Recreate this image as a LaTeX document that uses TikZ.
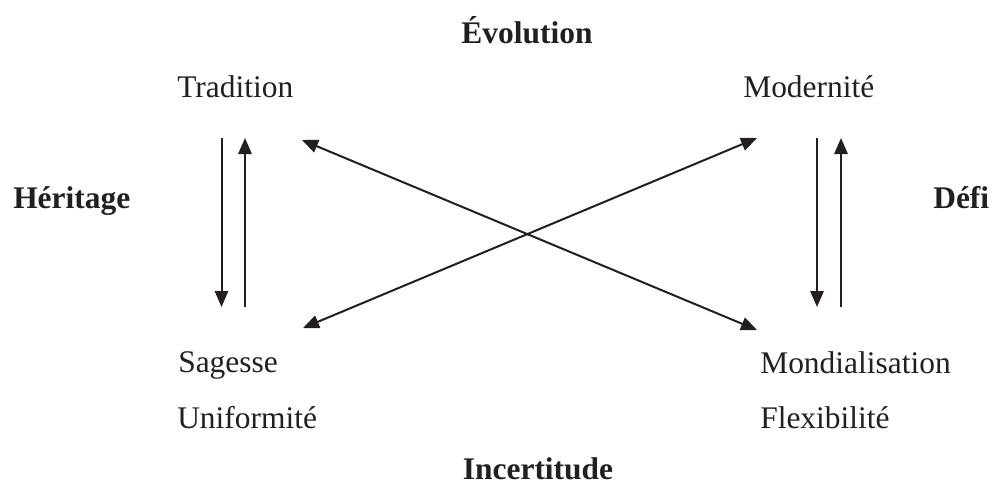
\documentclass[tikz,border=0pt]{standalone}
\usepackage{fontspec}
\setmainfont{Liberation Serif}
\usetikzlibrary{arrows.meta}
\definecolor{ink}{HTML}{231F20}
\tikzset{
  lbl/.style={inner sep=0pt, text=ink, font=\fontsize{23.6}{28}\selectfont},
  blbl/.style={lbl, font=\fontsize{23.6}{28}\selectfont\bfseries},
  arr/.style={draw=ink, line width=1.5pt, -{Triangle[length=12pt,width=10pt]}},
  darr/.style={draw=ink, line width=1.5pt, {Triangle[length=12pt,width=10pt]}-{Triangle[length=12pt,width=10pt]}}
}
\begin{document}
\begin{tikzpicture}[x=0.75pt,y=-0.75pt]
\useasboundingbox (0,0) rectangle (994,487);
\node[blbl, anchor=base] (evo) at (527,43) {Évolution};
\node[lbl, anchor=base west] (trad) at (177,97) {Tradition};
\node[lbl, anchor=base west] (mod) at (743,97) {Modernité};
\node[blbl, anchor=base west] (her) at (13,208) {Héritage};
\node[blbl, anchor=base west] (defi) at (933,208) {Défi};
\node[lbl, anchor=base west] (sag) at (178,372) {Sagesse};
\node[lbl, anchor=base west] (mond) at (760,373) {Mondialisation};
\node[lbl, anchor=base west] (unif) at (177,428) {Uniformité};
\node[lbl, anchor=base west] (flex) at (760,428) {Flexibilité};
\node[blbl, anchor=base] (inc) at (538,479) {Incertitude};
% arrow end points
\coordinate (ld1) at (221.5,138);
\coordinate (ld2) at (221.5,307);
\coordinate (lu1) at (245,307);
\coordinate (lu2) at (245,138);
\coordinate (rd1) at (817,138);
\coordinate (rd2) at (817,307);
\coordinate (ru1) at (841,307);
\coordinate (ru2) at (841,138);
\coordinate (tr) at (302,140);
\coordinate (sg) at (303,328);
\coordinate (md) at (757,138);
\coordinate (mn) at (757,330);
\draw[arr] (ld1) -- (ld2);
\draw[arr] (lu1) -- (lu2);
\draw[arr] (rd1) -- (rd2);
\draw[arr] (ru1) -- (ru2);
\draw[darr] (tr) -- (mn);
\draw[darr] (sg) -- (md);
\end{tikzpicture}
\end{document}
